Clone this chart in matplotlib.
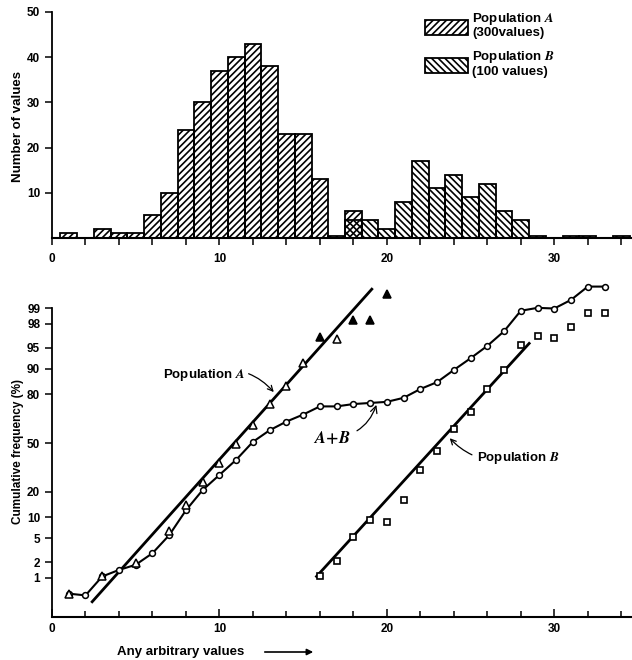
import math
import numpy as np
import matplotlib
matplotlib.use('Agg')
import matplotlib.pyplot as plt
from matplotlib.patches import Rectangle
from matplotlib.ticker import MultipleLocator

plt.rcParams['font.family'] = 'Liberation Sans'
plt.rcParams['font.weight'] = 'bold'
plt.rcParams['mathtext.fontset'] = 'stix'
plt.rcParams['hatch.linewidth'] = 1.2

# histogram (bin centre, number of values)
bins_a = [1, 3, 4, 5, 6, 7, 8, 9, 10, 11, 12, 13, 14, 15, 16, 17, 18]
count_a = [1, 2, 1, 1, 5, 10, 24, 30, 37, 40, 43, 38, 23, 23, 13, 0.5, 6]
bins_b = [18, 19, 20, 21, 22, 23, 24, 25, 26, 27, 28, 29, 31, 32, 34]
count_b = [4, 4, 2, 8, 17, 11, 14, 9, 12, 6, 4, 0.5, 0.5, 0.5, 0.5]

# cumulative frequency (%)
x_ab = list(range(1, 34))
cum_ab = [0.47, 0.43, 1.07, 1.43, 1.79, 2.87, 5.6, 12.3, 20.9, 29.1, 38.6,
          50.8, 58.7, 64.4, 68.8, 73.6, 73.6, 74.9, 75.5, 76.1, 78.2, 82.4,
          85.3, 89.6, 92.8, 95.3, 97.3, 98.87, 99.01, 98.98, 99.32, 99.65, 99.65]
x_a = [1, 3, 5, 7, 8, 9, 10, 11, 12, 13, 14, 15, 17]
cum_a = [0.47, 1.1, 1.9, 6.4, 14.2, 25.1, 36.3, 49.2, 62.2, 75.2, 83.6, 91.5, 96.3]
x_a_solid = [16, 18, 19, 20]
cum_a_solid = [96.6, 98.3, 98.3, 99.49]
x_b = list(range(16, 34))
cum_b = [1.07, 2.12, 5.26, 9.18, 8.53, 16.1, 31.9, 44.4, 59.5, 70.5, 82.6,
         89.6, 95.4, 96.7, 96.5, 97.7, 98.75, 98.75]
# fitted straight lines (end points)
fit_a_x = [2.4, 19.1]
fit_a_pct = [0.31, 99.6]
fit_b_x = [15.8, 28.5]
fit_b_pct = [1.07, 95.7]

prob_ticks = [1, 2, 5, 10, 20, 50, 80, 90, 95, 98, 99]


def pct_to_z(p):
    # inverse of the normal cdf, by bisection
    p = np.asarray(p, dtype=float) / 100.0
    lo = np.full(p.shape, -6.0)
    hi = np.full(p.shape, 6.0)
    erf = np.vectorize(math.erf)
    for _ in range(60):
        mid = (lo + hi) / 2
        cdf = 0.5 * (1 + erf(mid / math.sqrt(2)))
        lo = np.where(cdf < p, mid, lo)
        hi = np.where(cdf < p, hi, mid)
    return (lo + hi) / 2


W, H = 632, 660
fig = plt.figure(figsize=(W / 100, H / 100), dpi=100)
ax1 = fig.add_axes([52 / W, (H - 238) / H, 586 / W, 226 / H])
ax2 = fig.add_axes([52 / W, (H - 617) / H, 586 / W, 5.85 * 58 / H])

# ---- top: histogram
ax1.bar(bins_a, count_a, width=1.0, facecolor='none', edgecolor='black',
        hatch='/////', linewidth=1.3)
ax1.bar(bins_b, count_b, width=1.0, facecolor='none', edgecolor='black',
        hatch='\\\\\\\\\\', linewidth=1.3)
ax1.set_xlim(0, 35)
ax1.set_ylim(0, 50)
ax1.set_yticks([10, 20, 30, 40, 50])
ax1.xaxis.set_major_locator(MultipleLocator(10))
ax1.xaxis.set_minor_locator(MultipleLocator(2))
ax1.tick_params(axis='x', which='both', direction='out', length=5, width=1.1,
                labelsize=8.5, pad=6)
ax1.tick_params(axis='y', direction='out', length=5, width=1.1, labelsize=8.5)
ax1.spines['top'].set_visible(False)
ax1.spines['right'].set_visible(False)
ax1.spines['left'].set_linewidth(1.3)
ax1.spines['bottom'].set_linewidth(1.5)

# legend boxes
ax1.add_patch(Rectangle((425 / W, (H - 35) / H), 43 / W, 15 / H, transform=fig.transFigure,
                        facecolor='none', edgecolor='black', hatch='/////', lw=1.3, clip_on=False))
ax1.add_patch(Rectangle((425 / W, (H - 73) / H), 43 / W, 15 / H, transform=fig.transFigure,
                        facecolor='none', edgecolor='black', hatch='\\\\\\\\\\', lw=1.3, clip_on=False))
fig.text(472 / W, 1 - 19 / H, 'Population $A$', fontsize=9.5, va='center')
fig.text(472 / W, 1 - 33 / H, '(300values)', fontsize=9.5, va='center')
fig.text(472 / W, 1 - 57 / H, 'Population $B$', fontsize=9.5, va='center')
fig.text(472 / W, 1 - 72 / H, '(100 values)', fontsize=9.5, va='center')

fig.text(18 / W, 1 - 127 / H, 'Number of values', rotation=90, fontsize=9.5,
         ha='center', va='center')

# ---- bottom: cumulative frequency on probability scale
ax2.plot(fit_a_x, pct_to_z(fit_a_pct), color='black', lw=2)
ax2.plot(fit_b_x, pct_to_z(fit_b_pct), color='black', lw=2)
ax2.plot(x_ab, pct_to_z(cum_ab), '-o', color='black', lw=1.5, ms=4.2,
         mfc='white', mew=1.1)
ax2.plot(x_a, pct_to_z(cum_a), '^', color='black', ms=5.5, mfc='white', mew=1.1)
ax2.plot(x_a_solid, pct_to_z(cum_a_solid), '^', color='black', ms=5.5, mew=1.1)
ax2.plot(x_b, pct_to_z(cum_b), 's', color='black', ms=4.8, mfc='white', mew=1.2)

ax2.annotate('Population $A$', xy=(13.3, 0.86), xytext=(11.5, 1.17),
             ha='right', va='center', fontsize=9.5,
             arrowprops=dict(arrowstyle='->', connectionstyle='arc3,rad=-0.35',
                             lw=0.9, shrinkA=1, shrinkB=1))
ax2.annotate('$A\\!+\\!B$', xy=(19.4, 0.68), xytext=(16.7, 0.09),
             ha='center', va='center', fontsize=12,
             arrowprops=dict(arrowstyle='->', connectionstyle='arc3,rad=0.35',
                             lw=0.9, shrinkA=3, shrinkB=1))
ax2.annotate('Population $B$', xy=(23.7, 0.1), xytext=(25.4, -0.26),
             ha='left', va='center', fontsize=9.5,
             arrowprops=dict(arrowstyle='->', connectionstyle='arc3,rad=-0.3',
                             lw=0.9, shrinkA=2, shrinkB=1))

ax2.set_xlim(0, 35)
ax2.set_ylim(-3.0, 2.85)
ax2.set_yticks(pct_to_z(prob_ticks))
ax2.set_yticklabels([str(p) for p in prob_ticks])
ax2.xaxis.set_major_locator(MultipleLocator(10))
ax2.xaxis.set_minor_locator(MultipleLocator(2))
ax2.tick_params(axis='x', which='major', direction='in', length=6, width=1.1,
                labelsize=8.5, pad=4)
ax2.tick_params(axis='x', which='minor', direction='in', length=4, width=1.1)
ax2.tick_params(axis='y', direction='out', length=5, width=1.1, labelsize=8.5)
ax2.spines['top'].set_visible(False)
ax2.spines['right'].set_visible(False)
ax2.spines['left'].set_bounds(-3.0, float(pct_to_z([99])[0]))
ax2.spines['left'].set_linewidth(1.3)
ax2.spines['bottom'].set_linewidth(1.5)

fig.text(18 / W, 1 - 452 / H, 'Cumulative frequency (%)', rotation=90, fontsize=8.5,
         ha='center', va='center')
fig.text(117 / W, 1 - 652 / H, 'Any arbitrary values', fontsize=9.5, va='center')
fig.add_artist(matplotlib.patches.FancyArrowPatch((262 / W, 1 - 652 / H), (316 / W, 1 - 652 / H),
                                                  transform=fig.transFigure, arrowstyle='-|>',
                                                  mutation_scale=9, lw=1.2, color='black'))

fig.savefig('out.png', dpi=100)
